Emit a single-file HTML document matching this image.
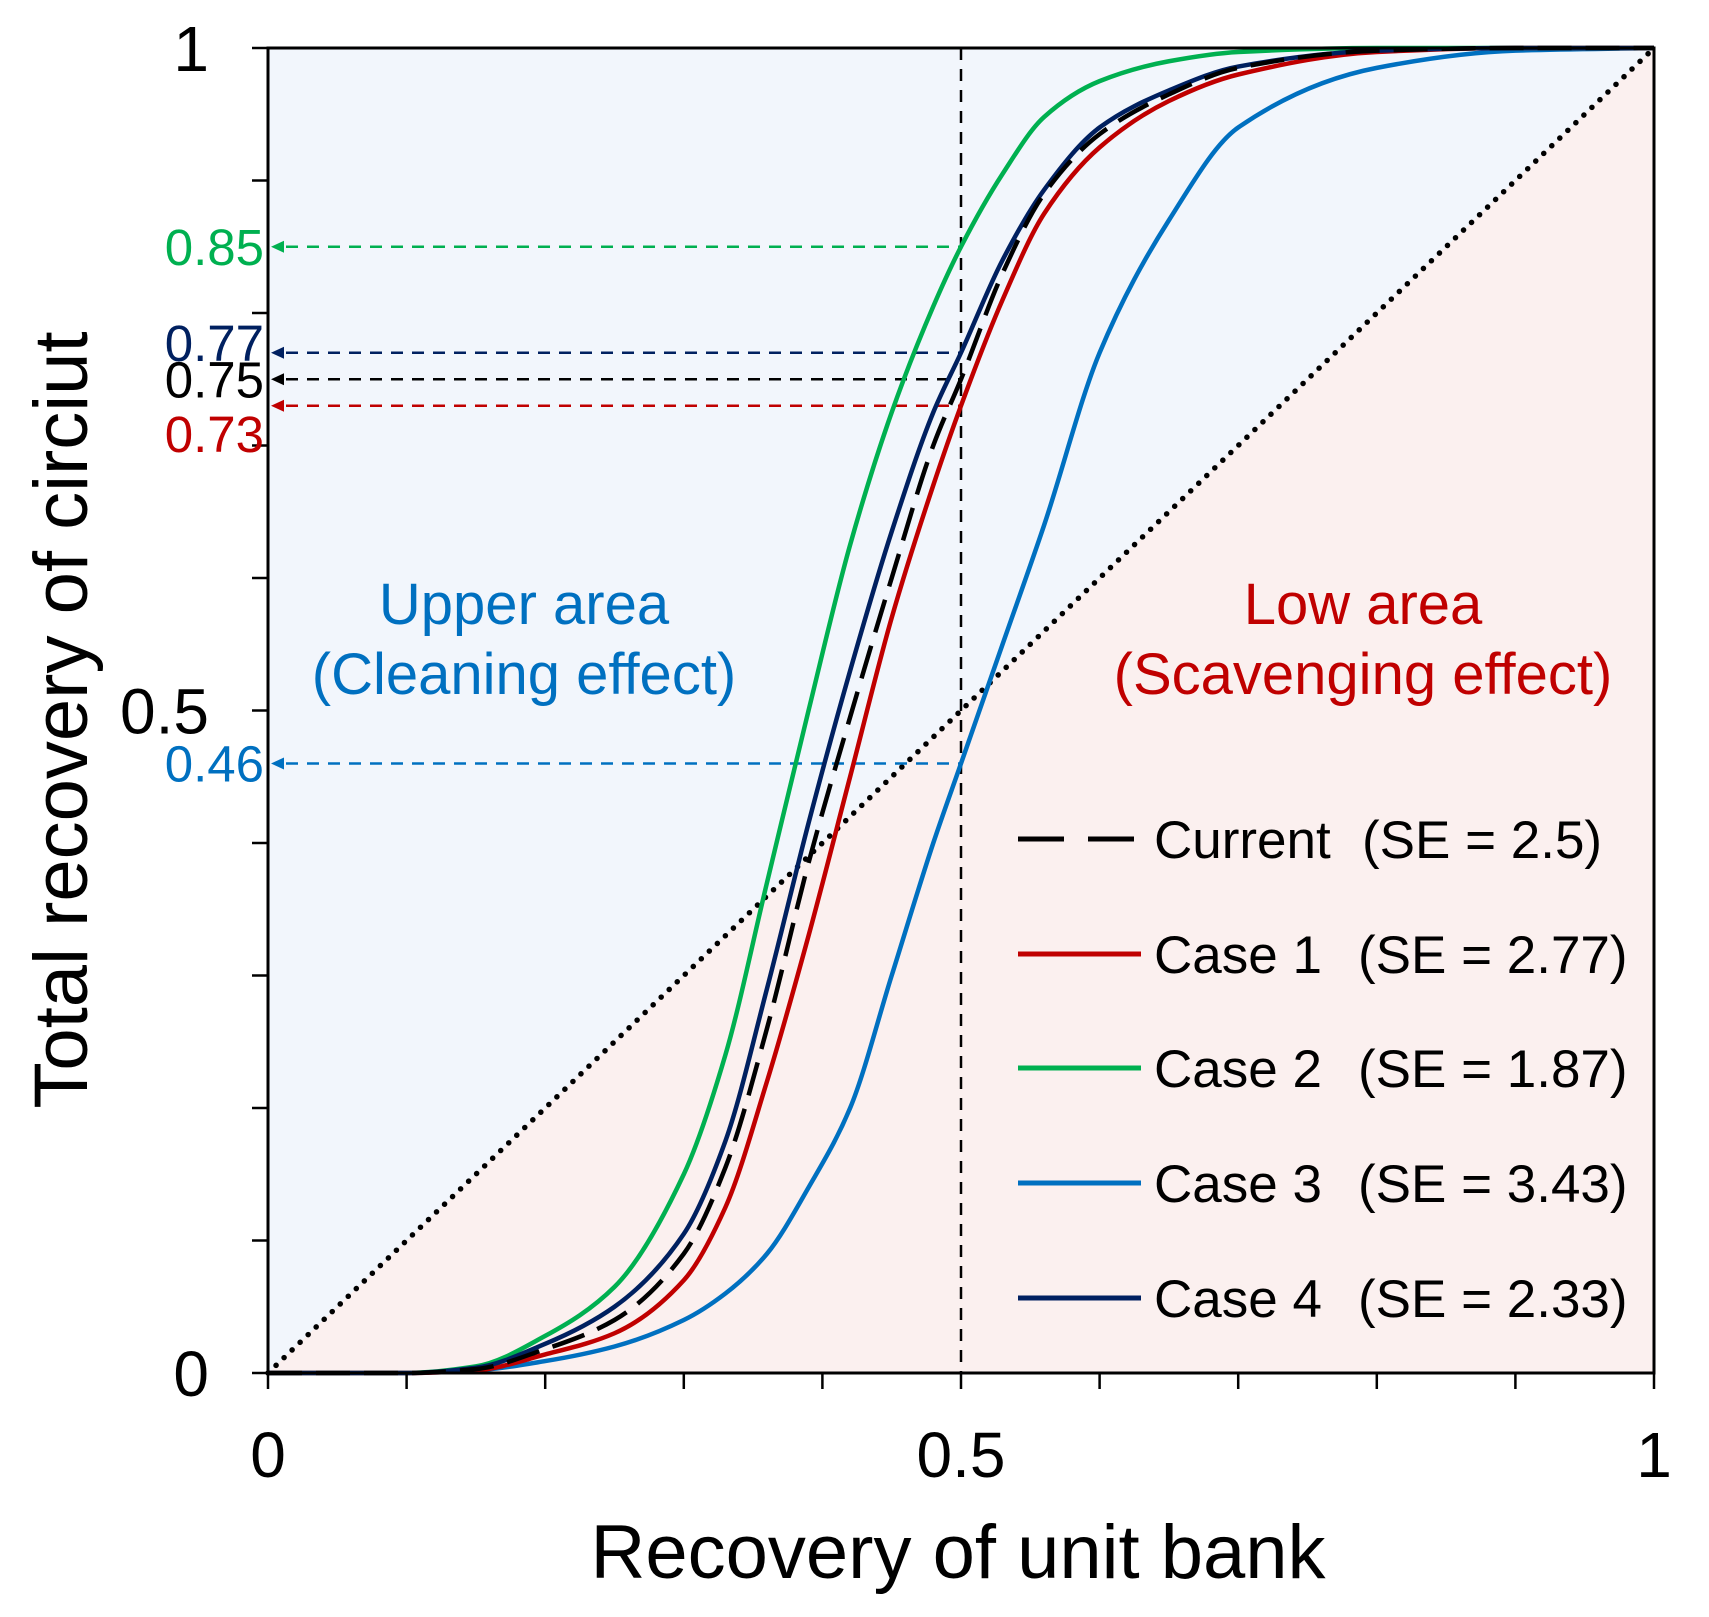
<!DOCTYPE html>
<html><head><meta charset="utf-8"><style>
html,body{margin:0;padding:0;background:#fff;}
svg text{font-family:"Liberation Sans",Arial,sans-serif;}
</style></head><body>
<svg id="chart" width="1709" height="1612" viewBox="0 0 1709 1612" xmlns="http://www.w3.org/2000/svg">
<g id="bg"></g><g id="marks"></g><g id="axes"></g><g id="labels"></g>
</svg>
<script>
const xs = [0,0.1,0.15,0.2,0.25,0.3,0.33,0.36,0.39,0.42,0.45,0.48,0.5,0.53,0.56,0.6,0.65,0.7,0.8,0.9,1];
const current = [0,0,0.003,0.018,0.04,0.09,0.155,0.26,0.385,0.495,0.6,0.7,0.75,0.83,0.89,0.935,0.965,0.985,0.998,1,1];
const case1 = [0,0,0.002,0.014,0.03,0.07,0.125,0.22,0.33,0.45,0.57,0.67,0.73,0.81,0.875,0.925,0.96,0.98,0.997,1,1];
const case2 = [0,0,0.005,0.028,0.065,0.15,0.24,0.37,0.5,0.625,0.725,0.805,0.85,0.905,0.948,0.975,0.99,0.997,1,1,1];
const case3 = [0,0,0.002,0.009,0.02,0.04,0.06,0.09,0.14,0.2,0.3,0.4,0.46,0.55,0.64,0.77,0.87,0.94,0.985,0.998,1];
const case4 = [0,0,0.004,0.022,0.05,0.105,0.175,0.29,0.415,0.53,0.635,0.725,0.77,0.84,0.893,0.94,0.968,0.986,0.998,1,1];
const markValues = [0.85,0.77,0.75,0.73,0.46];
const markLabels = ["0.85","0.77","0.75","0.73","0.46"];
const xTickLabels = ["0","0.5","1"];
const yTickLabels = ["0","0.5","1"];
const seriesNames = ["Current","Case 1","Case 2","Case 3","Case 4"];
const seriesSE = ["(SE = 2.5)","(SE = 2.77)","(SE = 1.87)","(SE = 3.43)","(SE = 2.33)"];

const L=268,R=1654,T=48,B=1373;
const X=v=>L+v*(R-L), Y=v=>B-v*(B-T);
const NS="http://www.w3.org/2000/svg";
function mk(tag,parent,attrs){const e=document.createElementNS(NS,tag);for(const k in attrs)e.setAttribute(k,attrs[k]);document.getElementById(parent).appendChild(e);return e;}
function smooth(ys){
 const n=xs.length, d=[], m=new Array(n).fill(0);
 for(let i=0;i<n-1;i++)d.push((ys[i+1]-ys[i])/(xs[i+1]-xs[i]));
 m[0]=d[0];m[n-1]=d[n-2];
 for(let i=1;i<n-1;i++){ if(d[i-1]*d[i]<=0)m[i]=0; else {const w1=2*(xs[i+1]-xs[i])+(xs[i]-xs[i-1]),w2=(xs[i+1]-xs[i])+2*(xs[i]-xs[i-1]);m[i]=(w1+w2)/(w1/d[i-1]+w2/d[i]);} }
 let s=`M${X(xs[0])},${Y(ys[0])}`;
 for(let i=0;i<n-1;i++){const h=xs[i+1]-xs[i];
  s+=` C${X(xs[i]+h/3)},${Y(ys[i]+m[i]*h/3)} ${X(xs[i+1]-h/3)},${Y(ys[i+1]-m[i+1]*h/3)} ${X(xs[i+1])},${Y(ys[i+1])}`;}
 return s;}

let e=mk('polygon','bg',{points:`${X(0)},${Y(0)} ${X(0)},${Y(1)} ${X(1)},${Y(1)}`,fill:'#f2f6fc'});

e=mk('polygon','bg',{points:`${X(0)},${Y(0)} ${X(1)},${Y(0)} ${X(1)},${Y(1)}`,fill:'#fbf0ef'});


e=mk('line','marks',{x1:X(0),y1:Y(0),x2:X(1),y2:Y(1),stroke:'#000','stroke-width':5.5,'stroke-dasharray':'0.1 11','stroke-linecap':'round'});

e=mk('line','marks',{x1:X(0.5),y1:Y(1),x2:X(0.5),y2:Y(0),stroke:'#000','stroke-width':2.5,'stroke-dasharray':'12 9'});


const cols=['#000','#c00000','#00b050','#0070c0','#002060'];
const series=[current,case1,case2,case3,case4];
const markCols=['#00b050','#002060','#000','#c00000','#0070c0'];
markValues.forEach((v,i)=>{
 let a=mk('line','marks',{x1:X(0)+18,y1:Y(v),x2:X(0.5),y2:Y(v),stroke:markCols[i],'stroke-width':2.5,'stroke-dasharray':'12 9'});
 
 
 a=mk('polygon','marks',{points:`${X(0)+3},${Y(v)} ${X(0)+16},${Y(v)-6} ${X(0)+16},${Y(v)+6}`,fill:markCols[i]});
 
 
});
[3,2,1,4,0].forEach(i=>{
 const p=mk('path','marks',{d:smooth(series[i]),fill:'none',stroke:cols[i],'stroke-width':4.5});
 if(i===0){p.setAttribute('stroke-dasharray','34 14');}
 
 
});

e=mk('rect','axes',{x:L,y:T,width:R-L,height:B-T,fill:'none',stroke:'#000','stroke-width':3});

for(let k=0;k<=10;k++){
 let t=mk('line','axes',{x1:L-16,y1:Y(k/10),x2:L,y2:Y(k/10),stroke:'#000','stroke-width':2.5});
 
 t=mk('line','axes',{x1:X(k/10),y1:B,x2:X(k/10),y2:B+16,stroke:'#000','stroke-width':2.5});
 
}
xTickLabels.forEach((s,i)=>{const v=parseFloat(s);
 const t=mk('text','labels',{x:X(v),y:1477,'font-size':64,'text-anchor':'middle'});t.textContent=s;
 });
yTickLabels.forEach((s,i)=>{const v=parseFloat(s);
 const t=mk('text','labels',{x:209,y:Y(v)+23,'font-size':64,'text-anchor':'end'});t.textContent=s;
 });
const labOff=[0,-10,0,28,0];
markValues.forEach((v,i)=>{
 const t=mk('text','labels',{x:264,y:Y(v)+labOff[i]+18,'font-size':51,'text-anchor':'end',fill:markCols[i]});t.textContent=markLabels[i];
 });

e=mk('text','labels',{x:958,y:1578,'font-size':76,'text-anchor':'middle'});e.textContent='Recovery  of unit bank';

e=mk('text','labels',{x:0,y:0,'font-size':76,'text-anchor':'middle',transform:'translate(87,720) rotate(-90)'});e.textContent='Total recovery of circiut';

[['Upper area',524,624,'#0070c0','upper-area-title'],['(Cleaning effect)',524,694,'#0070c0','upper-area-subtitle'],
 ['Low area',1363,624,'#c00000','low-area-title'],['(Scavenging effect)',1363,694,'#c00000','low-area-subtitle']].forEach(a=>{
 const t=mk('text','labels',{x:a[1],y:a[2],'font-size':58,'text-anchor':'middle',fill:a[3]});t.textContent=a[0];
 });

const legY=[839,954,1068,1183,1298];
seriesNames.forEach((n,i)=>{
 const l=mk('line','labels',{x1:1018,y1:legY[i],x2:1141,y2:legY[i],stroke:cols[i],'stroke-width':5});
 if(i===0)l.setAttribute('stroke-dasharray','46 24');
 
 let t=mk('text','labels',{x:1154,y:legY[i]+19,'font-size':53});t.textContent=n;
 
 t=mk('text','labels',{x:i===0?1362:1358,y:legY[i]+19,'font-size':53});t.textContent=seriesSE[i];
 
});
</script>
</body></html>
